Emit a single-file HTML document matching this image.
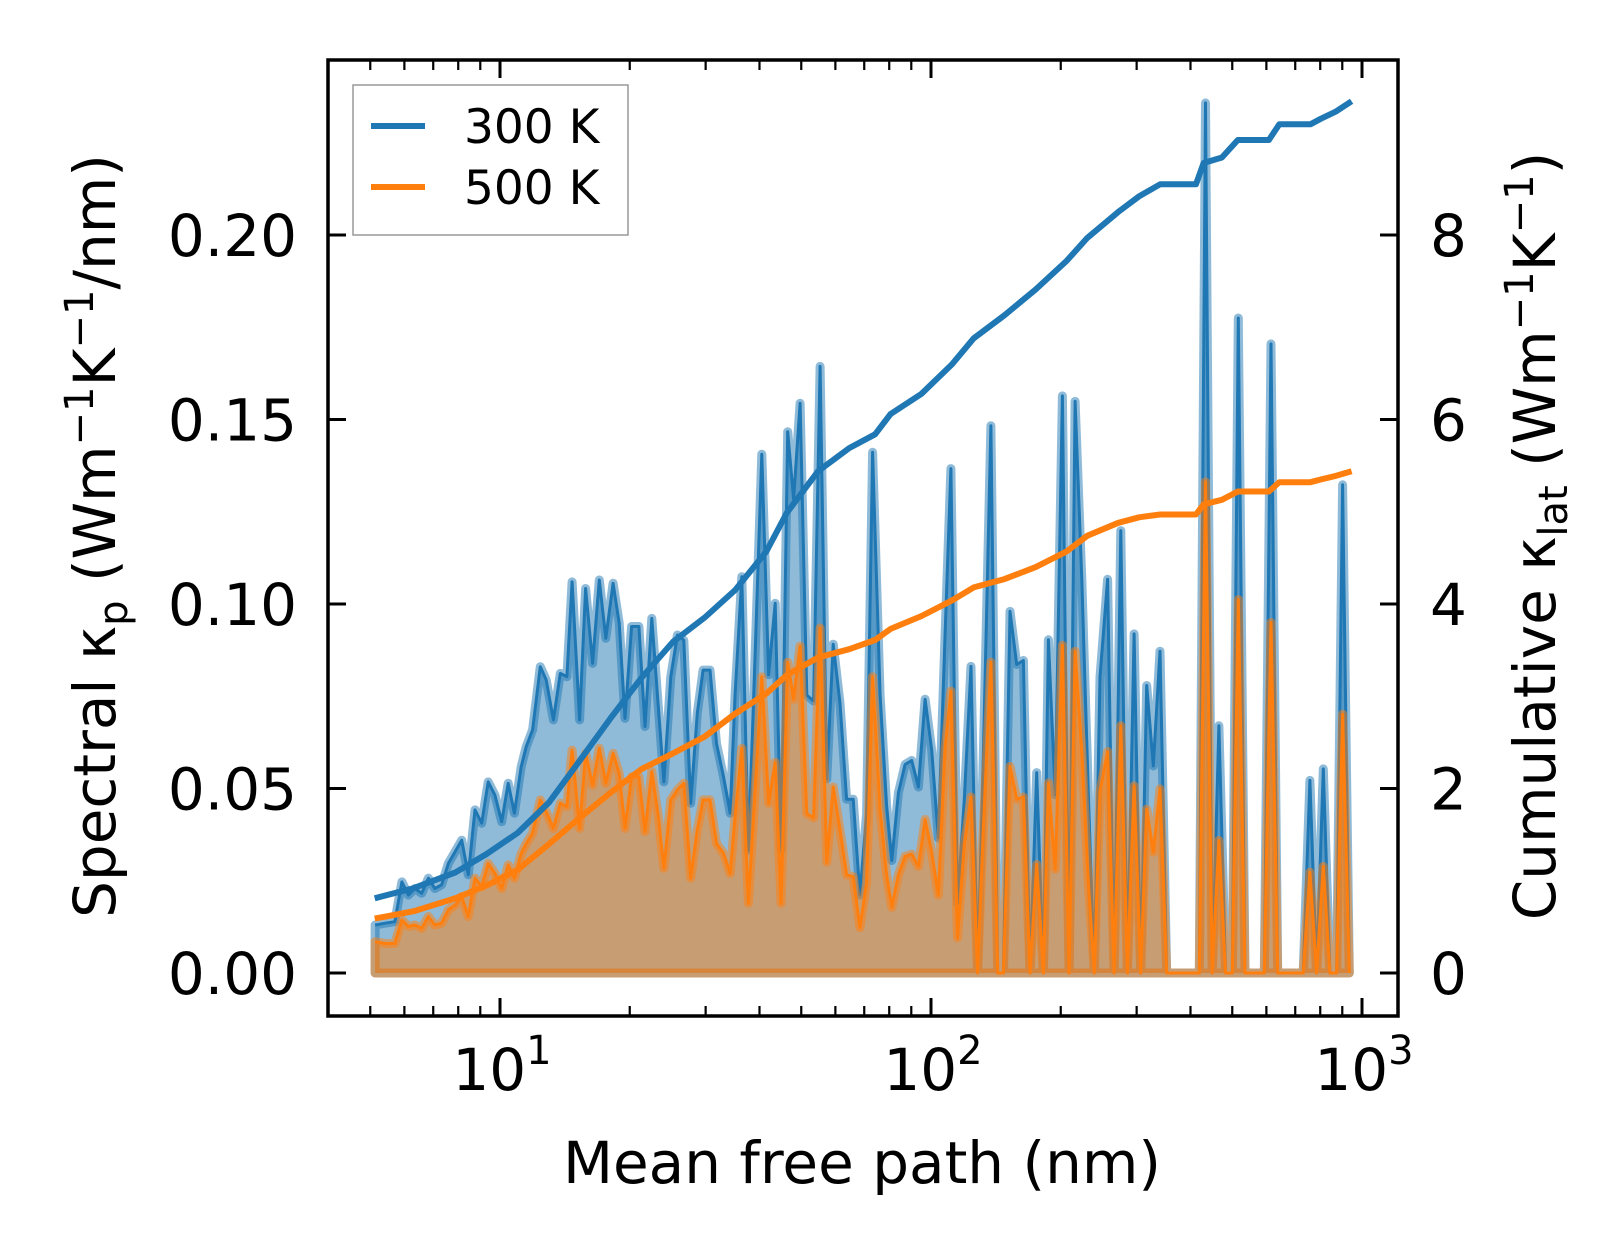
<!DOCTYPE html>
<html><head><meta charset="utf-8"><style>
html,body{margin:0;padding:0;background:#fff}
svg{display:block}
text{font-family:"DejaVu Sans","Liberation Sans",sans-serif;fill:#000}
</style></head><body>
<svg id="chart" xmlns="http://www.w3.org/2000/svg" width="1623" height="1254" viewBox="0 0 1623 1254">
<g id="marks"></g>
<g id="axes"></g>
<rect x="328" y="60" width="1070" height="956" fill="none" stroke="#000" stroke-width="3.5"/>
<text transform="translate(115,536) rotate(-90)" text-anchor="middle" font-size="58">Spectral κ<tspan font-size="40" dy="12">p</tspan><tspan dy="-12"> (Wm</tspan><tspan font-size="40" dy="-22">−1</tspan><tspan dy="22">K</tspan><tspan font-size="40" dy="-22">−1</tspan><tspan dy="22">/nm)</tspan></text>
<text transform="translate(1555,536) rotate(-90)" text-anchor="middle" font-size="58">Cumulative κ<tspan font-size="40" dy="12">lat</tspan><tspan dy="-12"> (Wm</tspan><tspan font-size="40" dy="-22">−1</tspan><tspan dy="22">K</tspan><tspan font-size="40" dy="-22">−1</tspan><tspan dy="22">)</tspan></text>
<text x="862" y="1183" text-anchor="middle" font-size="58">Mean free path (nm)</text>
<g>
<rect x="353" y="85" width="275" height="150" fill="#fff" fill-opacity="0.8" stroke="#999" stroke-width="1.5"/>
<line x1="371" y1="126" x2="425" y2="126" stroke="#1f77b4" stroke-width="6"/>
<text x="464" y="143" font-size="47">300 K</text>
<line x1="371" y1="187" x2="425" y2="187" stroke="#ff7f0e" stroke-width="6"/>
<text x="464" y="204" font-size="47">500 K</text>
</g>
</svg>
<script>
const mfp=[5.13,5.41,5.70,5.92,6.13,6.35,6.58,6.82,7.06,7.32,7.59,7.87,8.15,8.44,8.75,9.07,9.39,9.73,10.09,10.45,10.8,11.2,11.5,11.9,12.4,12.8,13.3,13.8,14.3,14.7,15.3,15.8,16.4,17.0,17.6,18.3,18.9,19.5,20.2,21.0,21.7,22.5,23.3,24.0,24.9,25.8,26.7,27.7,28.7,29.6,30.7,31.8,33.0,34.2,35.1,36.4,37.7,39.1,40.5,42.0,43.5,44.9,46.5,48.0,49.7,51.5,53.4,55.3,57.3,59.3,61.5,63.7,66.0,68.4,70.9,73.2,76.2,78.9,81.1,84.0,87.1,90.2,93.5,96.9,100.4,104.0,107.8,111.2,115.2,119.4,123.8,128.3,132.2,137.7,142.8,147.2,152.5,158.1,163.8,169.7,175.9,182.3,187.2,194.2,201.8,209.1,215.9,223.8,231.8,239.3,246.7,256.9,265.9,275.6,285.6,296.0,306.6,316.5,327.9,339.8,352.2,364.9,378.1,391.8,406,419.2,433.5,449.3,465.6,482.5,500,516.5,535.3,554.7,574.8,593.4,614.9,637.3,660.4,684.4,709.2,730.6,757.1,784.6,813.1,842.6,873.2,901.4,934.6];
const k300=[.0130,.0135,.0139,.0247,.0211,.0229,.0216,.0257,.0229,.0239,.0297,.0329,.0360,.0266,.0442,.0406,.0518,.0482,.0410,.0514,.0433,.0559,.0613,.0659,.0830,.0794,.0686,.0812,.0803,.1060,.0686,.1042,.0839,.1065,.0907,.1056,.0948,.0690,.0939,.0939,.0668,.0961,.0722,.0518,.0803,.0916,.0902,.0460,.0704,.0821,.0821,.0622,.0532,.0433,.075,.1074,.0333,.087,.1406,.0808,.1002,.0333,.1467,.1284,.1544,.0753,.0737,.1644,.0526,.0891,.0731,.0471,.0471,.0211,.0432,.1411,.0753,.0454,.0305,.0488,.0565,.0576,.0504,.0742,.0604,.0366,.0919,.1367,.0189,.0466,.0831,0,.0587,.1483,0,0,.0980,.0836,.0847,0,.0543,0,.0903,.0483,.1564,0,.1549,.1067,.0481,0,.0802,.1067,0,.1199,0,.0919,0,.0779,.0561,.0872,0,0,0,0,0,0,.2358,0,.0670,0,0,.1775,0,0,0,0,.1705,0,0,0,0,0,.0522,0,.0553,0,0,.1323,0];
const k500=[.0085,.0080,.0080,.0144,.0126,.0130,.0121,.0153,.0130,.0135,.0171,.0184,.0207,.0153,.0257,.0234,.0297,.0270,.0229,.0293,.0257,.0324,.0351,.0379,.0469,.0437,.0392,.0460,.0451,.0604,.0392,.0595,.0509,.0609,.0514,.0595,.0541,.0392,.0532,.0532,.0383,.0546,.0424,.0284,.0469,.0496,.0514,.0257,.0388,.0469,.0469,.0351,.0324,.0270,.042,.0609,.0189,.050,.0803,.0460,.0571,.0189,.0842,.0742,.0886,.0432,.0421,.0935,.0300,.0504,.0388,.0266,.0261,.0123,.0244,.0803,.0443,.0266,.0178,.0266,.0316,.0322,.0289,.0416,.0327,.0211,.0609,.0764,.0095,.0344,.0477,0,.0388,.0842,0,0,.0560,.0471,.0477,0,.0294,0,.0515,.0281,.0888,0,.0872,.0600,.0242,0,.0491,.0600,0,.0670,0,.0507,0,.0444,.0328,.0499,0,0,0,0,0,0,.1331,0,.0359,0,0,.1012,0,0,0,0,.0950,0,0,0,0,0,.0273,0,.0289,0,0,.0701,0];
const cumMfp=[5.12,6.31,7.88,9.31,11.0,13.0,15.3,18.1,21.3,25.2,29.8,35.1,41.5,46.3,54.7,64.6,74.2,80.6,95.1,112,125.6,148,175,206.5,230.6,272,304,340,412,429,473,515,608,643,759,802,871,946];
const cum300=[0.81,0.92,1.09,1.29,1.52,1.85,2.30,2.77,3.20,3.59,3.85,4.15,4.57,4.99,5.44,5.69,5.84,6.06,6.28,6.60,6.88,7.13,7.41,7.72,7.97,8.25,8.42,8.55,8.55,8.78,8.84,9.03,9.03,9.20,9.20,9.26,9.34,9.45];
const cum500=[0.59,0.67,0.81,0.95,1.12,1.40,1.68,1.96,2.21,2.38,2.56,2.81,3.03,3.23,3.42,3.51,3.61,3.73,3.87,4.04,4.18,4.27,4.40,4.57,4.74,4.88,4.94,4.97,4.97,5.08,5.13,5.22,5.22,5.32,5.32,5.35,5.39,5.44];
const yTicks=[0,0.05,0.10,0.15,0.20];
const yTickLabels=["0.00","0.05","0.10","0.15","0.20"];
const y2Ticks=[0,2,4,6,8];
const y2TickLabels=["0","2","4","6","8"];
const xMajor=[10,100,1000];
const xMajorExp=["1","2","3"];

const NS="http://www.w3.org/2000/svg";
const X0=500,DEC=431,Y0=973,YPX=184.5;
function xs(v){return X0+DEC*(Math.log10(v)-1);}
function ys(v){return Y0-v/0.05*YPX;}
function yr(v){return Y0-v/2*YPX;}
function mk(tag,attrs,parent){const e=document.createElementNS(NS,tag);for(const k in attrs)e.setAttribute(k,attrs[k]);parent.appendChild(e);return e;}
const marks=document.getElementById('marks');
const axes=document.getElementById('axes');

function series(vals,color,name){
  const pts=mfp.map((m,i)=>xs(m).toFixed(1)+','+ys(vals[i]).toFixed(1));
  const poly=[xs(mfp[0]).toFixed(1)+','+ys(0)].concat(pts).concat([xs(mfp[mfp.length-1]).toFixed(1)+','+ys(0)]);
  const f=mk('polygon',{points:poly.join(' '),fill:color,'fill-opacity':0.5,stroke:color,'stroke-opacity':0.5,'stroke-width':9,'stroke-linejoin':'round'},marks);
  
  
  const l=mk('polyline',{points:pts.join(' '),fill:'none',stroke:color,'stroke-width':3,'stroke-linejoin':'round'},marks);
  
  
}
series(k300,'#1f77b4','spectral-300k');
series(k500,'#ff7f0e','spectral-500k');
function cum(vals,color,name){
  const pts=cumMfp.map((m,i)=>xs(m).toFixed(1)+','+yr(vals[i]).toFixed(1));
  const l=mk('polyline',{points:pts.join(' '),fill:'none',stroke:color,'stroke-width':6,'stroke-linejoin':'round'},marks);
  
  
}
cum(cum300,'#1f77b4','cumulative-300k');
cum(cum500,'#ff7f0e','cumulative-500k');

yTicks.forEach((t,i)=>{
  const y=ys(t);
  const a=mk('line',{x1:328,x2:346,y1:y,y2:y,stroke:'#000','stroke-width':3},axes);
  
  
  const tx=mk('text',{x:297,y:y+21,'text-anchor':'end','font-size':58},axes);
  tx.textContent=yTickLabels[i];
  
  
});
y2Ticks.forEach((t,i)=>{
  const y=yr(t);
  const a=mk('line',{x1:1380,x2:1398,y1:y,y2:y,stroke:'#000','stroke-width':3},axes);
  
  
  const tx=mk('text',{x:1430,y:y+21,'font-size':58},axes);
  tx.textContent=y2TickLabels[i];
  
  
});
xMajor.forEach((t,i)=>{
  const x=xs(t);
  [[1016,998],[60,78]].forEach(p=>{
    const a=mk('line',{x1:x,x2:x,y1:p[0],y2:p[1],stroke:'#000','stroke-width':3},axes);
    
    
  });
  const tx=mk('text',{x:x+2,y:1090,'text-anchor':'middle','font-size':58},axes);
  
  
  tx.textContent='10';
  const sp=mk('tspan',{'font-size':40,dy:-26},tx);
  sp.textContent=xMajorExp[i];
});
for(let d=1;d<=100;d*=10){
  for(let m=2;m<=9;m++){
    const v=d*m; if(v<4||v>1200)continue;
    const x=xs(v); if(x<329||x>1397)continue;
    [[1016,1006],[60,70]].forEach(p=>{
      const a=mk('line',{x1:x,x2:x,y1:p[0],y2:p[1],stroke:'#000','stroke-width':2.2},axes);
      
      
    });
  }
}
</script>
</body></html>
